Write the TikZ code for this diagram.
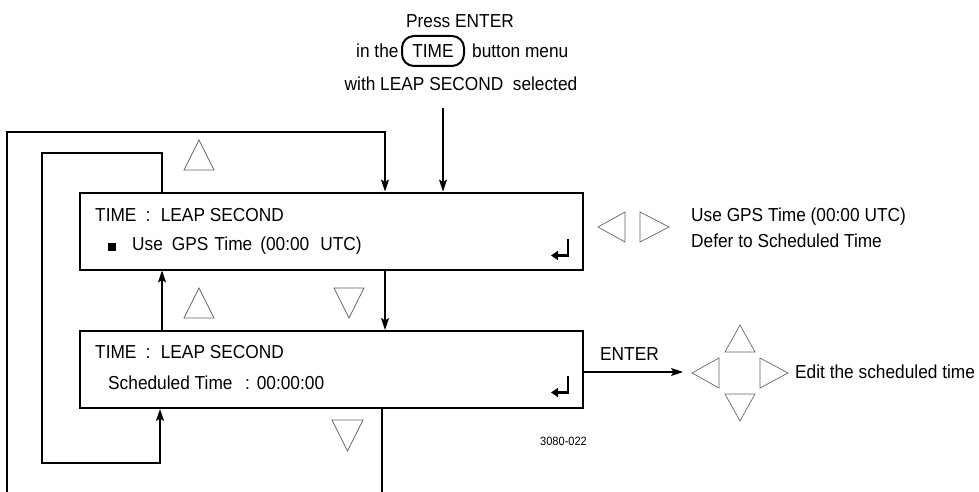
\documentclass[tikz,border=0pt]{standalone}
\usepackage{fontspec}
\setmainfont{Liberation Sans}[FakeStretch=0.92]
\usetikzlibrary{arrows.meta}
\begin{document}
\begin{tikzpicture}[x=1pt,y=-1pt,
  every node/.style={font=\fontsize{18.8}{21}\selectfont, inner sep=0pt},
  screen/.style={draw, line width=2pt, minimum width=503pt, minimum height=77pt, inner sep=0pt},
  conn/.style={line width=1.2pt},
  arr/.style={conn, -{Stealth[length=12pt,width=8pt,inset=2.5pt]}},
  tri/.style={draw=black!60, line width=0.7pt, line join=miter},
  txt/.style={anchor=base west},
  retsym/.style={line width=2.6pt, -{Triangle[length=7pt,width=9pt]}},
]
\useasboundingbox (0,0) rectangle (979,492);

% screens
\node[screen] (b1) at (331.5,231) {};
\node[screen] (b2) at (331.5,369.5) {};

% screen texts
\node[txt] (t1a) at (95,221.5) {TIME\hspace{9pt}:\hspace{10.5pt}LEAP SECOND};
\fill (108,243) rectangle (116,251);
\node[txt] (t1b) at (132,250.5) {Use\hspace{9pt}GPS\hspace{6pt}Time\hspace{8pt}(00:00\hspace{11pt}UTC)};
\node[txt] (t2a) at (95,358) {TIME\hspace{9pt}:\hspace{10.5pt}LEAP SECOND};
\node[txt] (t2b) at (108,389.5) {Scheduled Time\hspace{12.5pt}:\hspace{7pt}00:00:00};

% return symbols
\draw[retsym] (568,239) -- (568,255.5) -- (551,255.5);
\draw[retsym] (568,376) -- (568,392.5) -- (551,392.5);

% header
\node[anchor=base] (h1) at (460,28) {Press ENTER};
\node[txt] (h2a) at (356,58) {in the};
\node[draw, line width=2pt, rounded corners=12pt, minimum width=62pt, minimum height=30pt] (timebtn) at (433,51) {TIME};
\node[txt] (h2b) at (472,58) {button menu};
\node[anchor=base] (h3) at (461,90.5) {with LEAP SECOND\ \ selected};

% right texts
\node[txt] (r1) at (691,221) {Use GPS Time (00:00 UTC)};
\node[txt] (r2) at (691,247) {Defer to Scheduled Time};
\node[txt] (enter) at (600,360) {ENTER};
\node[txt] (edit) at (795,378.5) {Edit the scheduled time};
\node[txt, font=\fontsize{12}{14}\selectfont] (code) at (540,445) {3080-022};

% connectors
\coordinate (in) at (443,108);
\draw[arr] (in) -- (in |- b1.north);

\coordinate (oBR) at (382,493.5);
\coordinate (oBL) at (7,493.5);
\coordinate (oTL) at (7,132);
\coordinate (oTR) at (385,132);
\draw[arr] (oBR |- b2.south) -- (oBR) -- (oBL) -- (oTL) -- (oTR) -- (oTR |- b1.north);

\coordinate (iTR) at (162,153);
\coordinate (iTL) at (42,153);
\coordinate (iBL) at (42,463);
\coordinate (iBR) at (160,463);
\draw[arr] (iTR |- b1.north) -- (iTR) -- (iTL) -- (iBL) -- (iBR) -- (iBR |- b2.south);

\draw[arr] (oTR |- b1.south) -- (oTR |- b2.north);
\draw[arr] (iTR |- b2.north) -- (iTR |- b1.south);

\coordinate (entT) at (683,372);
\draw[arr] (b2.east |- entT) -- (entT);

% triangles
\draw[tri] (184,170) -- (199,140) -- (214,170) -- cycle;
\draw[tri] (184,318) -- (199,288) -- (214,318) -- cycle;
\draw[tri] (334,288) -- (364,288) -- (349,318) -- cycle;
\draw[tri] (332,420) -- (363,420) -- (347.5,451) -- cycle;
\draw[tri] (625,212) -- (625,242) -- (598,227) -- cycle;
\draw[tri] (640,212) -- (640,242) -- (669,227) -- cycle;
\draw[tri] (725,352) -- (740,325) -- (755,352) -- cycle;
\draw[tri] (719,358) -- (719,388) -- (692,373) -- cycle;
\draw[tri] (760,358) -- (760,388) -- (788,373) -- cycle;
\draw[tri] (725,394) -- (755,394) -- (740,421) -- cycle;
\end{tikzpicture}
\end{document}
